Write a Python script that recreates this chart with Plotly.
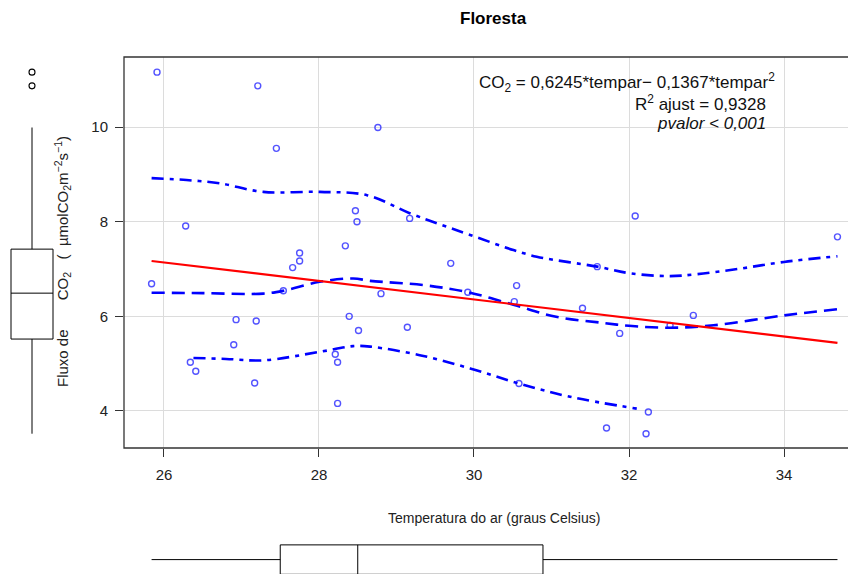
import plotly.graph_objects as go

# ---- data ----
temp = [25.91, 27.21, 28.76, 27.45, 28.47, 28.49, 26.28, 28.34, 27.75, 27.75,
        27.66, 25.84, 27.54, 26.93, 27.19, 28.39, 28.51, 26.90, 26.34, 26.41,
        27.17, 28.21, 28.24, 28.24, 29.17, 32.08, 28.80, 29.70, 29.14, 29.92,
        30.55, 30.52, 30.58, 31.59, 31.40, 31.88, 31.71, 32.25, 32.22, 34.69,
        32.83, 32.53]
fluxo = [11.16, 10.87, 9.99, 9.55, 8.23, 8.00, 7.91, 7.49, 7.34, 7.17,
         7.03, 6.69, 6.54, 5.93, 5.90, 6.00, 5.70, 5.40, 5.03, 4.84,
         4.59, 5.20, 5.03, 4.16, 8.07, 8.12, 6.48, 7.12, 5.77, 6.51,
         6.65, 6.31, 4.58, 7.05, 6.17, 5.64, 3.64, 3.98, 3.52, 7.68,
         6.02, 5.81]

fit_x = [25.84, 34.69]
fit_y = [7.17, 5.44]

mean_x = [25.84, 26.5, 27.28, 27.54, 28.01, 28.44, 28.66, 29.35, 29.92, 30.52,
          31.06, 31.67, 32.0, 32.53, 33.09, 34.0, 34.69]
mean_y = [6.50, 6.49, 6.48, 6.54, 6.73, 6.80, 6.75, 6.66, 6.51, 6.24,
          5.99, 5.86, 5.80, 5.76, 5.81, 6.02, 6.15]

upper_x = [25.84, 26.29, 26.72, 27.28, 28.01, 28.62, 29.17, 29.55, 29.95, 30.51,
           30.81, 31.59, 32.01, 32.53, 32.87, 33.4, 34.0, 34.69]
upper_y = [8.92, 8.88, 8.81, 8.63, 8.63, 8.56, 8.18, 7.95, 7.72, 7.40,
           7.26, 7.05, 6.91, 6.85, 6.89, 7.0, 7.15, 7.27]

lower_x = [26.38, 26.8, 27.28, 28.01, 28.44, 28.66, 29.30, 29.95, 30.58, 31.24, 32.10]
lower_y = [5.12, 5.10, 5.07, 5.25, 5.37, 5.36, 5.18, 4.90, 4.58, 4.30, 4.05]

# box-plot summaries as drawn in the reference (R fivenum hinges)
fluxo_box = dict(lowerfence=3.52, q1=5.52, median=6.49, q3=7.42, upperfence=9.99)
temp_box = dict(lowerfence=25.84, q1=27.50, median=28.50, q3=30.89, upperfence=34.69)
fluxo_outliers = [v for v in fluxo if v > fluxo_box["upperfence"]]

x_ticks = [26, 28, 30, 32, 34]
y_ticks = [4, 6, 8, 10]

NB = "\u00a0"
title = "Floresta"
x_title = "Temperatura do ar (graus Celsius)"
y_title = ("Fluxo de" + NB * 7 + "CO<sub>2</sub>" + NB * 3 + "(" + NB * 2 +
           "µmolCO<sub>2</sub>m<sup>−2</sup>s<sup>−1</sup>)")
eq_lines = ["CO<sub>2</sub> = 0,6245*tempar− 0,1367*tempar<sup>2</sup>",
            "R<sup>2</sup> ajust = 0,9328",
            "<i>pvalor < 0,001</i>"]

# ---- layout geometry (page has an 8px body margin) ----
OFF = 8
W, H = 856 - OFF, 574 - OFF
def px(x):
    return (x - OFF) / W
def py(y):
    return 1 - (y - OFF) / H

xdom = [px(124), 1.0]
ydom = [py(448), py(57)]
xrange_ = [25.484, 26 + (856 - 164) / 77.5]
yrange_ = [3.218, 11.480]

FONT = "Liberation Sans, Arial, sans-serif"
BLUE = "rgb(0,0,255)"

fig = go.Figure()

fig.add_trace(go.Scatter(x=temp, y=fluxo, mode="markers",
                         marker=dict(symbol="circle-open", size=6,
                                     color="rgba(40,40,255,0.8)",
                                     line=dict(width=1.4)),
                         xaxis="x", yaxis="y", showlegend=False))
fig.add_trace(go.Scatter(x=upper_x, y=upper_y, mode="lines",
                         line=dict(color=BLUE, width=2.6, dash="12px,6px,4px,6px", shape="spline"),
                         xaxis="x", yaxis="y", showlegend=False))
fig.add_trace(go.Scatter(x=lower_x, y=lower_y, mode="lines",
                         line=dict(color=BLUE, width=2.6, dash="12px,6px,4px,6px", shape="spline"),
                         xaxis="x", yaxis="y", showlegend=False))
fig.add_trace(go.Scatter(x=mean_x, y=mean_y, mode="lines",
                         line=dict(color=BLUE, width=2.6, dash="13px,7px", shape="spline"),
                         xaxis="x", yaxis="y", showlegend=False))
fig.add_trace(go.Scatter(x=fit_x, y=fit_y, mode="lines",
                         line=dict(color="rgb(255,0,0)", width=2.2),
                         xaxis="x", yaxis="y", showlegend=False))

# left boxplot (y)
fig.add_trace(go.Box(x=[0], q1=[fluxo_box["q1"]], median=[fluxo_box["median"]],
                     q3=[fluxo_box["q3"]], lowerfence=[fluxo_box["lowerfence"]],
                     upperfence=[fluxo_box["upperfence"]],
                     width=0.875, boxpoints=False,
                     line=dict(color="black", width=1), fillcolor="white",
                     whiskerwidth=0, xaxis="x2", yaxis="y2", showlegend=False))
fig.add_trace(go.Scatter(x=[0] * len(fluxo_outliers), y=fluxo_outliers, mode="markers",
                         marker=dict(symbol="circle-open", size=6, color="black",
                                     line=dict(width=1.1)),
                         xaxis="x2", yaxis="y2", showlegend=False))
# bottom boxplot (x)
fig.add_trace(go.Box(y=[0], q1=[temp_box["q1"]], median=[temp_box["median"]],
                     q3=[temp_box["q3"]], lowerfence=[temp_box["lowerfence"]],
                     upperfence=[temp_box["upperfence"]],
                     orientation="h", width=0.92, boxpoints=False,
                     line=dict(color="black", width=1), fillcolor="white",
                     whiskerwidth=0, xaxis="x3", yaxis="y3", showlegend=False))

tickfont = dict(family=FONT, size=15, color="#222")
fig.update_layout(
    width=W, height=H,
    margin=dict(l=0, r=0, t=0, b=0),
    paper_bgcolor="white", plot_bgcolor="white",
    font=dict(family=FONT),
    xaxis=dict(domain=xdom, range=xrange_, tickvals=x_ticks, ticks="outside",
               ticklen=8, tickcolor="#333", tickwidth=1,
               showgrid=True, gridcolor="#dcdcdc", gridwidth=1,
               zeroline=False, showline=False, tickfont=tickfont,
               ticklabelstandoff=5, anchor="y"),
    yaxis=dict(domain=ydom, range=yrange_, tickvals=y_ticks, ticks="outside",
               ticklen=8, tickcolor="#333", tickwidth=1,
               showgrid=True, gridcolor="#dcdcdc", gridwidth=1,
               zeroline=False, showline=False, tickfont=tickfont,
               ticklabelstandoff=4, anchor="x"),
    xaxis2=dict(domain=[0, px(56)], range=[-0.5, 0.5], visible=False, anchor="y2"),
    yaxis2=dict(domain=ydom, range=yrange_, visible=False, anchor="x2"),
    xaxis3=dict(domain=xdom, range=xrange_, visible=False, anchor="y3"),
    yaxis3=dict(domain=[0, 32 / H], range=[-0.45, 0.55], visible=False, anchor="x3"),
)

# plot border (right side falls outside the picture)
fig.add_shape(type="rect", xref="paper", yref="paper",
              x0=xdom[0], x1=1.03, y0=ydom[0], y1=ydom[1],
              line=dict(color="#333", width=1.3), fillcolor="rgba(0,0,0,0)", layer="above")

fig.add_annotation(text="<b>" + title + "</b>", xref="paper", yref="paper",
                   x=px(494), y=py(18), xanchor="center", yanchor="middle",
                   showarrow=False, font=dict(family=FONT, size=17, color="black"))
fig.add_annotation(text=x_title, xref="paper", yref="paper",
                   x=px(494), y=py(518), xanchor="center", yanchor="middle",
                   showarrow=False, font=dict(family=FONT, size=14, color="#222"))
fig.add_annotation(text=y_title, xref="paper", yref="paper",
                   x=px(62), y=py(262), xanchor="center", yanchor="middle",
                   showarrow=False, textangle=-90,
                   font=dict(family=FONT, size=15, color="#222"))

eq_pos = [(777, 82), (768, 103), (768, 123)]
for line, (ex, ey) in zip(eq_lines, eq_pos):
    fig.add_annotation(text=line, xref="paper", yref="paper",
                       x=px(ex), y=py(ey), xanchor="right", yanchor="middle",
                       showarrow=False, font=dict(family=FONT, size=17, color="#111"))

fig.write_html("out.html")
